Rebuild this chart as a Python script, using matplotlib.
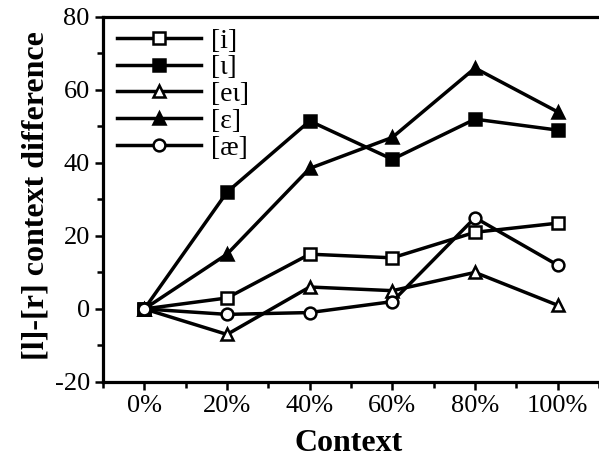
import matplotlib.pyplot as plt
from matplotlib.ticker import MultipleLocator

plt.rcParams['font.family'] = ['Liberation Serif', 'DejaVu Serif']
plt.rcParams['axes.unicode_minus'] = False

context = [0, 20, 40, 60, 80, 100]
tick_labels = ['0%', '20%', '40%', '60%', '80%', '100%']

i_vals = [0, 3, 15, 14, 21, 23.5]
iota_vals = [0, 32, 51.5, 41, 52, 49]
ei_vals = [0, -7, 6, 5, 10, 1]
eps_vals = [0, 15, 38.5, 47, 66, 54]
ae_vals = [0, -1.5, -1, 2, 25, 12]

series = [
    ('[i]', i_vals, 's', 'white'),
    ('[\u03b9]', iota_vals, 's', 'black'),
    ('[e\u03b9]', ei_vals, '^', 'white'),
    ('[\u025b]', eps_vals, '^', 'black'),
    ('[\u00e6]', ae_vals, 'o', 'white'),
]

fig = plt.figure(figsize=(5.99, 4.59), dpi=100)
ax = fig.add_axes([0.172, 0.168, 0.828, 0.795])

for label, vals, mk, fc in series:
    ax.plot(context, vals, color='black', lw=2.5, marker=mk, ms=8.5,
            mfc=fc, mec='black', mew=1.8, label=label)

ax.set_xlim(-10, 110)
ax.set_ylim(-20, 80)
ax.set_xticks(context)
ax.set_xticklabels(tick_labels)
ax.xaxis.set_minor_locator(MultipleLocator(10))
ax.yaxis.set_major_locator(MultipleLocator(20))
ax.yaxis.set_minor_locator(MultipleLocator(10))
ax.tick_params(which='major', direction='out', length=6, width=1.8, labelsize=19)
ax.tick_params(which='minor', direction='out', length=4, width=1.8)
ax.spines['right'].set_visible(False)
for s in ['left', 'top', 'bottom']:
    ax.spines[s].set_linewidth(2.3)

ax.set_xlabel('Context', fontsize=23, fontweight='bold', labelpad=0)
ax.set_ylabel('[l]-[r] context difference', fontsize=23, fontweight='bold')
ax.xaxis.set_label_coords(0.495, -0.13)
ax.yaxis.set_label_coords(-0.105, 0.51)

ax.legend(loc='upper left', frameon=False, fontsize=20, handlelength=3.05,
          handletextpad=0.35, labelspacing=0.05, borderaxespad=0.0,
          bbox_to_anchor=(0.005, 1.0))

fig.savefig('out.png', dpi=100)
